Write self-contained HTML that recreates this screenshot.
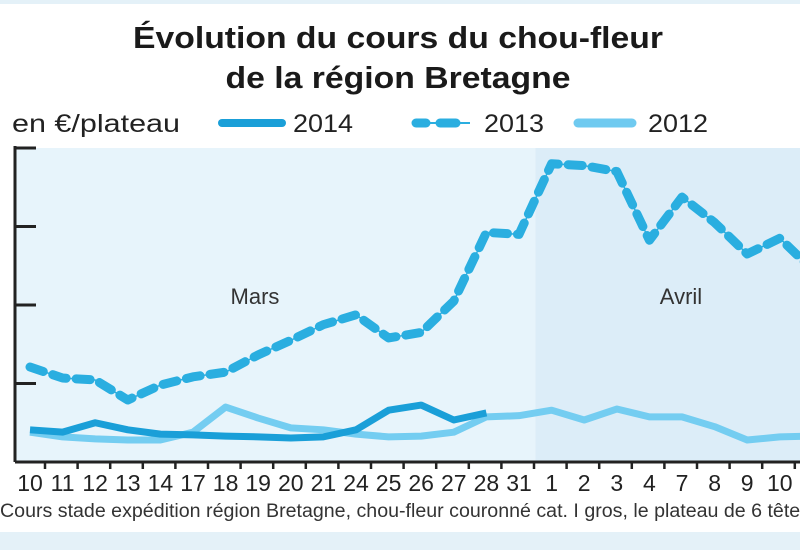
<!DOCTYPE html>
<html><head><meta charset="utf-8"><style>
html,body{margin:0;padding:0;background:#fff;}
svg{display:block;font-family:"Liberation Sans Narrow","Liberation Sans",sans-serif;}
</style></head><body>
<svg width="800" height="550" viewBox="0 0 800 550">
<rect x="0" y="0" width="800" height="550" fill="#ffffff"/>
<rect x="0" y="0" width="800" height="4" fill="#e4f1f8"/>
<rect x="0" y="532" width="800" height="18" fill="#e4f1f8"/>
<text x="398" y="48" text-anchor="middle" font-size="31" font-weight="bold" fill="#1a1a1a" textLength="530" lengthAdjust="spacingAndGlyphs">Évolution du cours du chou-fleur</text>
<text x="398" y="88" text-anchor="middle" font-size="31" font-weight="bold" fill="#1a1a1a" textLength="345" lengthAdjust="spacingAndGlyphs">de la région Bretagne</text>
<text x="12" y="132" font-size="25" fill="#222" textLength="168" lengthAdjust="spacingAndGlyphs">en €/plateau</text>
<g>
 <g>
  <line x1="222" y1="123" x2="282" y2="123" stroke="#1a9fd8" stroke-width="8" stroke-linecap="round"/>
  <text x="293" y="132" font-size="25" fill="#222" textLength="60" lengthAdjust="spacingAndGlyphs">2014</text>
 </g>
 <g>
  <line x1="416" y1="123" x2="470" y2="123" stroke="#2aaee0" stroke-width="2"/>
  <line x1="416" y1="123" x2="426" y2="123" stroke="#2aaee0" stroke-width="9" stroke-linecap="round"/>
  <line x1="440" y1="123" x2="456" y2="123" stroke="#2aaee0" stroke-width="9" stroke-linecap="round"/>
  <text x="484" y="132" font-size="25" fill="#222" textLength="60" lengthAdjust="spacingAndGlyphs">2013</text>
 </g>
 <g>
  <line x1="578" y1="123" x2="632" y2="123" stroke="#6fcaf0" stroke-width="9" stroke-linecap="round"/>
  <text x="648" y="132" font-size="25" fill="#222" textLength="60" lengthAdjust="spacingAndGlyphs">2012</text>
 </g>
</g>
<g id="plot"></g>
<text x="0" y="517" font-size="19" fill="#333" textLength="810" lengthAdjust="spacingAndGlyphs">Cours stade expédition région Bretagne, chou-fleur couronné cat. I gros, le plateau de 6 têtes</text>
</svg>
<script>
const categories=["10","11","12","13","14","17","18","19","20","21","24","25","26","27","28","31","1","2","3","4","7","8","9","10","11"];
const yTicks=[0,2,4,6,8];
const values2014=[0.82,0.76,1.0,0.82,0.71,0.69,0.66,0.64,0.61,0.64,0.82,1.32,1.45,1.07,1.25];
const values2013=[2.42,2.14,2.09,1.58,1.96,2.17,2.29,2.73,3.1,3.5,3.75,3.16,3.3,4.1,5.85,5.8,7.6,7.55,7.4,5.65,6.75,6.1,5.3,5.7,4.9];
const values2012=[0.76,0.64,0.59,0.56,0.56,0.76,1.4,1.12,0.87,0.82,0.71,0.64,0.66,0.76,1.15,1.18,1.32,1.07,1.35,1.15,1.15,0.9,0.56,0.64,0.66];
const NS="http://www.w3.org/2000/svg";
const plot=document.getElementById('plot');
const X0=30,DX=32.6,Y0=462,YS=39.25,LEFT=15,TOP=148,RIGHT=800;
function xs(i){return X0+i*DX;}
function ys(v){return Y0-v*YS;}
function mk(t,a){const e=document.createElementNS(NS,t);for(const k in a)e.setAttribute(k,a[k]);plot.appendChild(e);return e;}
let r=mk('rect',{x:LEFT,y:TOP,width:xs(15.5)-LEFT,height:Y0-TOP,fill:'#e7f4fb'});


r=mk('rect',{x:xs(15.5),y:TOP,width:RIGHT-xs(15.5),height:Y0-TOP,fill:'#dcedf8'});


let t=mk('text',{x:255,y:304,'font-size':22,fill:'#333','text-anchor':'middle'});t.textContent='Mars';


t=mk('text',{x:681,y:304,'font-size':22,fill:'#333','text-anchor':'middle'});t.textContent='Avril';


let ax=mk('line',{x1:LEFT,y1:TOP-2,x2:LEFT,y2:Y0,stroke:'#222','stroke-width':3});


yTicks.forEach(v=>{if(v===0)return;const l=mk('line',{x1:LEFT,y1:ys(v),x2:LEFT+21,y2:ys(v),stroke:'#222','stroke-width':3});

});
ax=mk('line',{x1:LEFT,y1:Y0,x2:RIGHT,y2:Y0,stroke:'#222','stroke-width':3});


categories.forEach((c,i)=>{
 const l=mk('line',{x1:xs(i)+15,y1:Y0,x2:xs(i)+15,y2:Y0+7,stroke:'#222','stroke-width':2.5});
 
 
 const tx=mk('text',{x:xs(i),y:Y0+29,'font-size':23,fill:'#222','text-anchor':'middle'});tx.textContent=c;
 
 
});
function pts(a){return a.map((v,i)=>xs(i)+','+ys(v)).join(' ');}
let p=mk('polyline',{points:pts(values2012),fill:'none',stroke:'#74cdf1','stroke-width':7,'stroke-linejoin':'round'});


p=mk('polyline',{points:pts(values2014),fill:'none',stroke:'#1a9fd8','stroke-width':7,'stroke-linejoin':'round'});


p=mk('polyline',{points:pts(values2013),fill:'none',stroke:'#2aaee0','stroke-width':1.5});


p=mk('polyline',{points:pts(values2013),fill:'none',stroke:'#2aaee0','stroke-width':9,'stroke-dasharray':'14 10','stroke-linecap':'round','stroke-linejoin':'round'});


</script>
</body></html>
